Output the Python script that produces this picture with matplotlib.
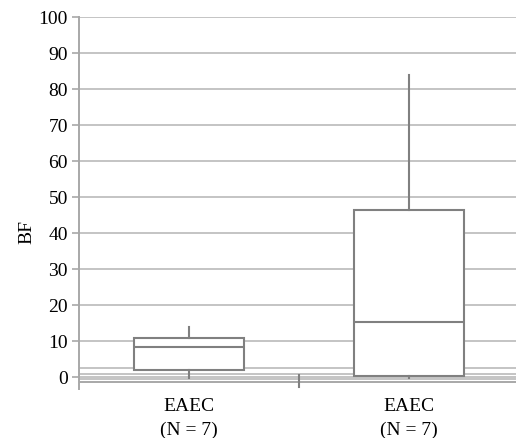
import numpy as np
import matplotlib.pyplot as plt

# box statistics
labels = ['EAEC\n(N = 7)', 'EAEC\n(N = 7)']
whislo = [-0.4, -0.4]
q1 = [1.9, 0.3]
med = [8.2, 15.2]
q3 = [10.7, 46.3]
whishi = [13.7, 83.8]

# faint extra horizontal lines near zero
extra_lines = [2.4, 0.9, -0.7]
axis_y = -1.55

plt.rcParams['font.family'] = ['Liberation Serif', 'DejaVu Serif']

fig = plt.figure(figsize=(5.16, 4.39), dpi=100)
ax = fig.add_axes([79/516, (439-390)/439, 440/516, (390-17.7)/439])

grid_c = '#c4c4c4'
box_c = '#808080'

for v in range(0, 101, 10):
    ax.axhline(v, color=grid_c, lw=1.4, zorder=0)
for v in extra_lines:
    ax.axhline(v, color=grid_c, lw=1.4, zorder=0)
ax.axhline(axis_y, color='#a8a8a8', lw=1.4, zorder=0)

stats = []
for i in range(len(labels)):
    stats.append(dict(med=med[i], q1=q1[i], q3=q3[i], whislo=whislo[i],
                      whishi=whishi[i], fliers=[]))

ax.bxp(stats, positions=[0.5, 1.5], widths=0.5, showcaps=False,
       patch_artist=True,
       boxprops=dict(facecolor='white', edgecolor=box_c, lw=1.5),
       medianprops=dict(color=box_c, lw=1.5),
       whiskerprops=dict(color=box_c, lw=1.5), zorder=2)

# category separator tick
ax.plot([1, 1], [-2.9, 0.45], color=box_c, lw=1.5, zorder=3)

ax.set_xlim(0, 2)
ax.set_ylim(-3.4, 100)
ax.set_xticks([0.5, 1.5])
ax.set_xticklabels(labels, fontsize=14, linespacing=1.45)
ax.tick_params(axis='x', length=0, pad=6)
ax.set_yticks(np.arange(0, 101, 10))
ax.tick_params(axis='y', labelsize=14, length=5, width=1.2, color='#a8a8a8', pad=3)
for s in ['top', 'right', 'bottom']:
    ax.spines[s].set_visible(False)
ax.spines['left'].set_color('#a8a8a8')
ax.spines['left'].set_linewidth(1.4)
ax.set_ylabel('BF', fontsize=14)
ax.yaxis.set_label_coords(-0.098, 0.424)

fig.savefig('out.png', dpi=100)
